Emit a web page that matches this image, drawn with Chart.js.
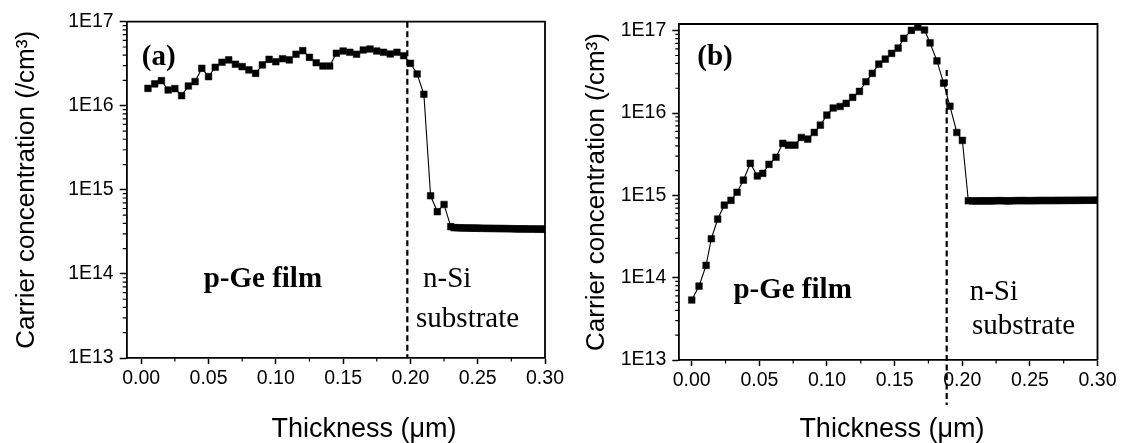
<!DOCTYPE html>
<html>
<head>
<meta charset="utf-8">
<script src="https://cdn.jsdelivr.net/npm/chart.js@4.4.1/dist/chart.umd.min.js"></script>
<style>
  html, body { margin: 0; padding: 0; background: #fff; }
  #wrap { position: relative; width: 1121px; height: 443px; }
  #wrap canvas { position: absolute; left: 0; top: 0; }
</style>
</head>
<body>
<div id="wrap">
  <canvas id="chart-a" width="1121" height="443"></canvas>
  <canvas id="chart-b" width="1121" height="443"></canvas>
</div>
<script>
// ---- panel (a): p-Ge film on n-Si, flat profile ----
const A_X = [0.005, 0.010, 0.015, 0.020, 0.025, 0.030, 0.035, 0.040, 0.045, 0.050,
             0.055, 0.060, 0.065, 0.070, 0.075, 0.080, 0.085, 0.090, 0.095, 0.100,
             0.105, 0.110, 0.115, 0.120, 0.125, 0.130, 0.135, 0.140, 0.145, 0.150,
             0.155, 0.160, 0.165, 0.170, 0.175, 0.180, 0.185, 0.190, 0.195, 0.200,
             0.205, 0.210, 0.215, 0.220, 0.225, 0.230,
             0.2325, 0.2350, 0.2375, 0.2400, 0.2425, 0.2450, 0.2475, 0.2500, 0.2525, 0.2550,
             0.2575, 0.2600, 0.2625, 0.2650, 0.2675, 0.2700, 0.2725, 0.2750, 0.2775, 0.2800,
             0.2825, 0.2850, 0.2875, 0.2900, 0.2925, 0.2950, 0.2975, 0.3000];
const A_Y = [1.61e16, 1.82e16, 1.99e16, 1.54e16, 1.60e16, 1.32e16, 1.72e16, 1.94e16, 2.79e16, 2.22e16,
             2.87e16, 3.29e16, 3.51e16, 3.12e16, 2.92e16, 2.67e16, 2.43e16, 3.06e16, 3.57e16, 3.34e16,
             3.63e16, 3.51e16, 4.10e16, 4.52e16, 3.77e16, 3.25e16, 2.97e16, 2.97e16, 4.21e16, 4.48e16,
             4.33e16, 4.10e16, 4.61e16, 4.73e16, 4.48e16, 4.33e16, 4.13e16, 4.33e16, 3.94e16, 3.20e16,
             2.39e16, 1.37e16, 8.5e14, 5.5e14, 6.7e14, 3.65e14,
             3.55e14, 3.54e14, 3.53e14, 3.52e14, 3.52e14, 3.51e14, 3.50e14, 3.50e14, 3.49e14, 3.49e14,
             3.48e14, 3.48e14, 3.47e14, 3.47e14, 3.46e14, 3.46e14, 3.45e14, 3.45e14, 3.44e14, 3.44e14,
             3.43e14, 3.43e14, 3.42e14, 3.42e14, 3.42e14, 3.41e14, 3.41e14, 3.41e14];
const A_BOUNDARY = 0.1977;

// ---- panel (b): graded profile peaking near 0.17 um ----
const B_X = [0.0000, 0.0054, 0.0106, 0.0145, 0.0192, 0.0241, 0.0290, 0.0335, 0.0382, 0.0433,
             0.0485, 0.0525, 0.0571, 0.0623, 0.0673, 0.0715, 0.0763, 0.0810, 0.0858, 0.0906,
             0.0951, 0.0999, 0.1046, 0.1097, 0.1142, 0.1190, 0.1240, 0.1288, 0.1335, 0.1383,
             0.1431, 0.1478, 0.1526, 0.1568, 0.1624, 0.1672, 0.1721, 0.1762, 0.1813, 0.1862,
             0.1909, 0.1960, 0.2001, 0.2045,
             0.2075, 0.2100, 0.2125, 0.2150, 0.2175, 0.2200, 0.2225, 0.2250, 0.2275, 0.2300,
             0.2325, 0.2350, 0.2375, 0.2400, 0.2425, 0.2450, 0.2475, 0.2500, 0.2525, 0.2550,
             0.2575, 0.2600, 0.2625, 0.2650, 0.2675, 0.2700, 0.2725, 0.2750, 0.2775, 0.2800,
             0.2825, 0.2850, 0.2875, 0.2900, 0.2925, 0.2950, 0.2975, 0.3000];
const B_Y = [5.35e13, 7.9e13, 1.41e14, 2.97e14, 5.15e14, 7.6e14, 8.7e14, 1.09e15, 1.53e15, 2.45e15,
             1.72e15, 1.85e15, 2.38e15, 2.90e15, 4.28e15, 4.07e15, 4.07e15, 5.05e15, 4.82e15, 5.81e15,
             7.13e15, 9.44e15, 1.15e16, 1.20e16, 1.31e16, 1.55e16, 1.83e16, 2.40e16, 3.03e16, 3.93e16,
             4.52e16, 5.30e16, 6.15e16, 8.08e16, 1.01e17, 1.10e17, 1.02e17, 7.1e16, 4.3e16, 2.31e16,
             1.21e16, 5.8e15, 4.65e15, 8.6e14,
             8.55e14, 8.55e14, 8.56e14, 8.56e14, 8.57e14, 8.57e14, 8.58e14, 8.60e14, 8.62e14, 8.60e14,
             8.58e14, 8.58e14, 8.60e14, 8.62e14, 8.63e14, 8.63e14, 8.62e14, 8.60e14, 8.62e14, 8.64e14,
             8.65e14, 8.66e14, 8.66e14, 8.65e14, 8.66e14, 8.67e14, 8.68e14, 8.68e14, 8.69e14, 8.70e14,
             8.70e14, 8.70e14, 8.71e14, 8.72e14, 8.72e14, 8.73e14, 8.73e14, 8.74e14];
const B_BOUNDARY = 0.1885;

const X_TICKS = [0, 0.05, 0.10, 0.15, 0.20, 0.25, 0.30];
const X_MINOR = [0.025, 0.075, 0.125, 0.175, 0.225, 0.275];
const Y_TICKS = [1e13, 1e14, 1e15, 1e16, 1e17];

const SANS  = '"Liberation Sans", Arial, sans-serif';
const SERIF = '"Liberation Serif", "Times New Roman", serif';

Chart.defaults.font.family = SANS;
Chart.defaults.color = '#000';

// minor log ticks 2..9 x 10^n that fall inside [min, max]
function logMinor(min, max) {
    const out = [];
    for (let e = Math.floor(Math.log10(min)); e <= Math.ceil(Math.log10(max)); e++) {
        for (let m = 2; m <= 9; m++) {
            const v = m * Math.pow(10, e);
            if (v > min && v < max) out.push(v);
        }
    }
    return out;
}

// frame, minor ticks, boundary line and the in-plot labels
const decor = {
    id: 'decor',
    afterDraw(chart, args, o) {
        const { ctx, chartArea: ca, scales: { x, y } } = chart;
        ctx.save();
        ctx.strokeStyle = '#000';
        ctx.lineWidth = 1.8;
        ctx.beginPath();
        ctx.moveTo(ca.left, ca.top);
        ctx.lineTo(ca.right, ca.top);
        ctx.lineTo(ca.right, ca.bottom);
        ctx.stroke();

        ctx.lineWidth = 1.2;
        ctx.beginPath();
        X_MINOR.forEach(v => {
            const px = x.getPixelForValue(v);
            ctx.moveTo(px, ca.bottom);
            ctx.lineTo(px, ca.bottom + 3.5);
        });
        logMinor(y.min, y.max).forEach(v => {
            const py = y.getPixelForValue(v);
            ctx.moveTo(ca.left, py);
            ctx.lineTo(ca.left - 4, py);
        });
        ctx.stroke();

        // dashed film / substrate boundary
        const bx = x.getPixelForValue(o.boundary);
        ctx.lineWidth = 2.2;
        ctx.setLineDash([6, 3.5]);
        ctx.beginPath();
        ctx.moveTo(bx, y.getPixelForValue(o.boundaryTop));
        ctx.lineTo(bx, y.getPixelForValue(o.boundaryBottom));
        ctx.stroke();
        ctx.setLineDash([]);

        ctx.fillStyle = '#000';
        ctx.textAlign = 'left';
        ctx.textBaseline = 'alphabetic';
        o.notes.forEach(n => {
            ctx.font = (n.bold ? 'bold ' : '') + '29px ' + SERIF;
            ctx.fillText(n.text, x.getPixelForValue(n.x), y.getPixelForValue(n.y));
        });

        // x axis title
        ctx.font = '27px ' + SANS;
        ctx.textAlign = 'center';
        ctx.fillText('Thickness (\u03bcm)', x.getPixelForValue(o.titleX), ca.bottom + o.titleDrop);
        ctx.restore();
    }
};

function makeChart(id, xs, ys, p) {
    const points = xs.map((v, i) => ({ x: v, y: ys[i] }));
    return new Chart(document.getElementById(id), {
        type: 'scatter',
        data: {
            datasets: [{
                data: points,
                showLine: true,
                borderColor: '#000',
                borderWidth: 1.1,
                pointStyle: 'rect',
                pointRadius: 4.7,
                pointBackgroundColor: '#000',
                pointBorderColor: '#000',
                pointBorderWidth: 0.5,
            }],
        },
        options: {
            responsive: false,
            animation: false,
            layout: { padding: p.padding },
            plugins: {
                legend: { display: false },
                tooltip: { enabled: false },
                decor: p.decor,
            },
            scales: {
                x: {
                    type: 'linear',
                    min: p.xMin,
                    max: 0.30,
                    afterBuildTicks: s => { s.ticks = X_TICKS.map(v => ({ value: v })); },
                    afterFit: s => { s.height = p.xHeight; s.paddingLeft = 0; s.paddingRight = 0; },
                    border: { display: true, color: '#000', width: 1.8 },
                    grid: { display: true, drawOnChartArea: false, tickLength: 6, tickWidth: 1.5, tickColor: '#000' },
                    ticks: {
                        autoSkip: false,
                        maxRotation: 0,
                        padding: 2.5,
                        color: '#000',
                        font: { size: 19.5 },
                        callback: v => v.toFixed(2),
                    },
                },
                y: {
                    type: 'logarithmic',
                    min: 1e13,
                    max: p.yMax,
                    afterBuildTicks: s => { s.ticks = Y_TICKS.map(v => ({ value: v })); },
                    afterFit: s => { s.width = p.yWidth; s.paddingTop = 0; s.paddingBottom = 0; },
                    border: { display: true, color: '#000', width: 1.8 },
                    grid: { display: true, drawOnChartArea: false, tickLength: 7, tickWidth: 1.5, tickColor: '#000' },
                    ticks: {
                        padding: 6,
                        color: '#000',
                        font: { size: 19.5 },
                        callback: v => '1E' + Math.round(Math.log10(v)),
                    },
                    title: {
                        display: true,
                        text: 'Carrier concentration (/cm\u00b3)',
                        color: '#000',
                        font: { size: 26 },
                        padding: { top: p.yTitlePad, bottom: 0 },
                    },
                },
            },
        },
        plugins: [decor],
    });
}

makeChart('chart-a', A_X, A_Y, {
    padding: { left: 0, top: 21.7, right: 576, bottom: 0 },
    xMin: -0.0108, yMax: 1e17,
    xHeight: 85, yWidth: 126.7, yTitlePad: 11.2,
    decor: {
        boundary: A_BOUNDARY, boundaryTop: 1e17, boundaryBottom: 1e13,
        titleX: 0.1655, titleDrop: 79,
        notes: [
            { text: '(a)',       x: 0.0004, y: 3.05e16, bold: true },
            { text: 'p-Ge film', x: 0.0464, y: 7.0e13,  bold: true },
            { text: 'n-Si',      x: 0.2094, y: 7.0e13,  bold: false },
            { text: 'substrate', x: 0.2042, y: 2.35e13, bold: false },
        ],
    },
});

makeChart('chart-b', B_X, B_Y, {
    padding: { left: 560, top: 24, right: 23.5, bottom: 0 },
    xMin: -0.0092, yMax: 1.206e17,
    xHeight: 83, yWidth: 119.3, yTitlePad: 20.9,
    decor: {
        boundary: B_BOUNDARY, boundaryTop: 3.33e16, boundaryBottom: 2.84e12,
        titleX: 0.148, titleDrop: 77,
        notes: [
            { text: '(b)',       x: 0.0041, y: 3.83e16, bold: true },
            { text: 'p-Ge film', x: 0.0308, y: 5.65e13, bold: true },
            { text: 'n-Si',      x: 0.2055, y: 5.35e13, bold: false },
            { text: 'substrate', x: 0.2072, y: 2.07e13, bold: false },
        ],
    },
});
</script>
</body>
</html>
